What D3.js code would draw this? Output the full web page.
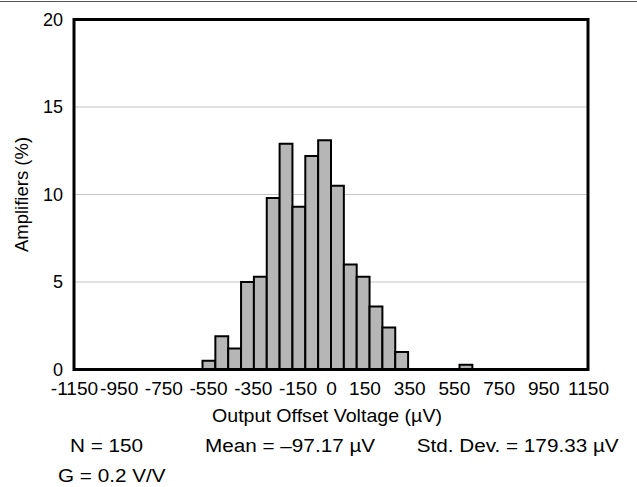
<!DOCTYPE html>
<html>
<head>
<meta charset="utf-8">
<script src="https://cdn.jsdelivr.net/npm/d3@7"></script>
<style>
  body { margin: 0; background: #fff; }
  svg text { font-family: Arial, "Liberation Sans", sans-serif; fill: #000; }
</style>
</head>
<body>
<script>
'use strict';

// histogram bins: lower edge in µV, every bin is 57.5 µV wide
const binStarts = [-575, -517.5, -460, -402.5, -345, -287.5, -230, -172.5, -115, -57.5, 0, 57.5, 115, 172.5, 230, 287.5, 575];
const binWidth = 57.5;
// share of amplifiers in each bin (%)
const percents = [0.5, 1.9, 1.2, 5.0, 5.3, 9.8, 12.9, 9.3, 12.2, 13.1, 10.5, 6.0, 5.3, 3.6, 2.4, 1.0, 0.27];
// tick labels
const xTicks = [-1150, -950, -750, -550, -350, -150, 0, 150, 350, 550, 750, 950, 1150];
const yTicks = [0, 5, 10, 15, 20];
// notes under the chart
const statsLine = ['N = 150', 'Mean = –97.17 µV', 'Std. Dev. = 179.33 µV'];
const gainLine = 'G = 0.2 V/V';

// the original text is a bit wider than Arial
const stretch = 1.09;

var margin = {top: 19.5, right: 49, bottom: 117.5, left: 74};
var width = 637 - margin.left - margin.right,
    height = 487 - margin.top - margin.bottom;

var x = d3.scaleLinear()
    .domain([-1150, 1150])
    .range([0, width]);

var y = d3.scaleLinear()
    .domain([0, 20])
    .range([height, 0]);

var svg = d3.select('body').append('svg')
    .attr('width', 637)
    .attr('height', 487);

// thin rule along the very top
svg.append('line')
    .attr('x1', 0).attr('x2', 637)
    .attr('y1', 1.5).attr('y2', 1.5)
    .attr('stroke', '#555')
    .attr('stroke-width', 1.2);

var chart = svg.append('g')
    .attr('transform', 'translate(' + margin.left + ',' + margin.top + ')');

// horizontal grid
chart.append('g')
  .selectAll('line')
  .data(yTicks.filter(d => d > 0 && d < 20))
  .enter()
  .append('line')
  .attr('x1', 0)
  .attr('x2', width)
  .attr('y1', d => y(d))
  .attr('y2', d => y(d))
  .attr('stroke', '#c4c4c4')
  .attr('stroke-width', 1);

// bars
chart.append('g')
  .selectAll('rect')
  .data(percents)
  .enter()
  .append('rect')
  .attr('x', (d, i) => x(binStarts[i]))
  .attr('width', (d, i) => x(binStarts[i] + binWidth) - x(binStarts[i]))
  .attr('y', d => y(d))
  .attr('height', d => height - y(d))
  .attr('fill', '#b6b6b6')
  .attr('stroke', '#000')
  .attr('stroke-width', 2);

// plot frame
chart.append('rect')
  .attr('width', width)
  .attr('height', height)
  .attr('fill', 'none')
  .attr('stroke', '#000')
  .attr('stroke-width', 3);

// x axis labels
var xAxis = d3.axisBottom(x)
    .tickValues(xTicks)
    .tickFormat(d => String(d))
    .tickSize(0)
    .tickPadding(13.5);

var xA = chart.append('g')
  .attr('transform', 'translate(0,' + height + ')')
  .call(xAxis);
xA.select('.domain').remove();
xA.selectAll('text')
  .attr('font-size', '17.5px')
  .attr('font-family', null)
  .attr('transform', 'scale(' + stretch + ',1)');

// y axis labels
var yAxis = d3.axisLeft(y)
    .tickValues(yTicks)
    .tickSize(0)
    .tickPadding(11);

var yA = chart.append('g')
  .call(yAxis);
yA.select('.domain').remove();
yA.selectAll('text')
  .attr('font-size', '18px')
  .attr('font-family', null);

// axis titles
svg.append('g')
  .attr('transform', 'translate(327,422) scale(' + stretch + ',1)')
  .append('text')
  .attr('text-anchor', 'middle')
  .attr('font-size', '18px')
  .text('Output Offset Voltage (µV)');

svg.append('text')
  .attr('transform', 'translate(28,' + (margin.top + height / 2) + ') rotate(-90)')
  .attr('text-anchor', 'middle')
  .attr('font-size', '18.5px')
  .text('Amplifiers (%)');

// test conditions below the chart
const statsX = [70, 205, 416.7];
svg.selectAll('.stat')
  .data(statsLine)
  .enter()
  .append('g')
  .attr('class', 'stat')
  .attr('transform', (d, i) => 'translate(' + statsX[i] + ',451.5) scale(' + stretch + ',1)')
  .append('text')
  .attr('font-size', '19px')
  .text(d => d);

svg.append('g')
  .attr('transform', 'translate(58,482) scale(' + stretch + ',1)')
  .append('text')
  .attr('font-size', '19px')
  .text(gainLine);
</script>
</body>
</html>
